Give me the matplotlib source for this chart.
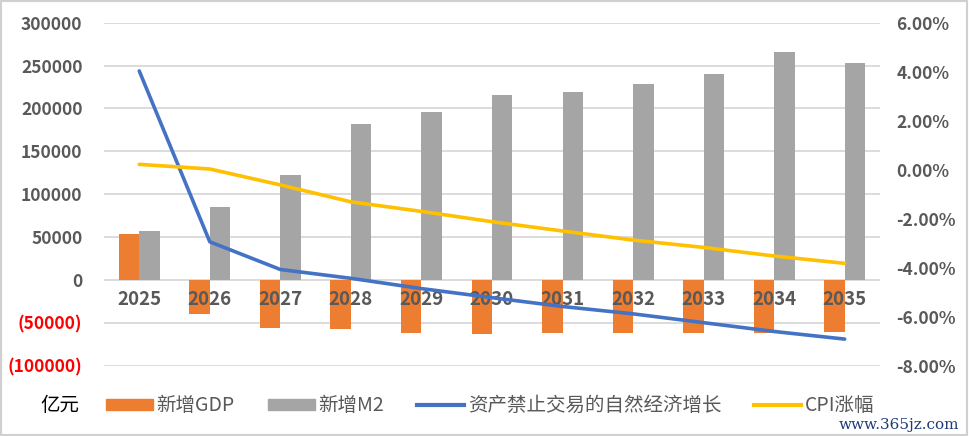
import numpy as np
import matplotlib
matplotlib.use("Agg")
import matplotlib.pyplot as plt
from matplotlib.patches import Rectangle
from matplotlib.lines import Line2D
from matplotlib.ticker import FuncFormatter

plt.rcParams['font.family'] = ['Noto Sans CJK SC', 'DejaVu Sans']

# Data
years = ['2025', '2026', '2027', '2028', '2029', '2030',
         '2031', '2032', '2033', '2034', '2035']
new_gdp = [54000, -40000, -55500, -57000, -62000, -62500,
           -62000, -62000, -62000, -62000, -61000]
new_m2 = [57500, 85500, 123000, 181500, 196000, 216000,
          219500, 228000, 240000, 266000, 252500]
natural_growth = [4.03, -2.94, -4.07, -4.43, -4.85, -5.22,
                  -5.58, -5.88, -6.24, -6.60, -6.91]
cpi = [0.22, 0.03, -0.62, -1.31, -1.70, -2.12,
       -2.50, -2.87, -3.17, -3.52, -3.82]

label_gray = '#595959'
c_gdp = '#ED7D31'
c_m2 = '#A5A5A5'
c_blue = '#4472C4'
c_yellow = '#FFC000'

fig = plt.figure(figsize=(9.69, 4.36), dpi=100)
ax = fig.add_axes([0.1073, 0.161, 0.8008, 0.787])
ax2 = ax.twinx()

x = np.arange(len(years))
w = 0.29
ax.bar(x - w / 2, new_gdp, width=w, color=c_gdp, zorder=2)
ax.bar(x + w / 2, new_m2, width=w, color=c_m2, zorder=2)

ax.set_ylim(-100000, 300000)
ax.set_xlim(-0.5, len(years) - 0.5)
ax.set_yticks(np.arange(-100000, 300001, 50000))
# negative values shown in parentheses
ax.yaxis.set_major_formatter(FuncFormatter(
    lambda v, p: f'({abs(int(v))})' if v < 0 else f'{int(v)}'))
ax.grid(axis='y', color='#D9D9D9', lw=1.3, zorder=0)
ax.set_axisbelow(True)
ax.set_xticks([])
ax.tick_params(axis='y', length=0, pad=15.5)
for lab in ax.get_yticklabels():
    lab.set_fontweight('bold')
    lab.set_fontsize(12.5)
    lab.set_color('red' if lab.get_text().startswith('(') else label_gray)

# year labels sit just under the zero line
for i, yr in enumerate(years):
    ax.text(i, -23000, yr, ha='center', va='center', fontsize=13.5,
            fontweight='bold', color=label_gray, zorder=6)

ax2.plot(x, natural_growth, color=c_blue, lw=2.6, zorder=4,
         solid_capstyle='round')
ax2.plot(x, cpi, color=c_yellow, lw=2.6, zorder=4, solid_capstyle='round')
ax2.set_ylim(-8, 6)
ax2.set_yticks(np.arange(-8, 6.1, 2))
ax2.yaxis.set_major_formatter(FuncFormatter(lambda v, p: f'{v:.2f}%'))
ax2.tick_params(axis='y', length=0, pad=12)
for lab in ax2.get_yticklabels():
    lab.set_fontweight('bold')
    lab.set_fontsize(12.5)
    lab.set_color(label_gray)

for a in (ax, ax2):
    for s in a.spines.values():
        s.set_visible(False)

handles = [Rectangle((0, 0), 1, 1, color=c_gdp),
           Rectangle((0, 0), 1, 1, color=c_m2),
           Line2D([], [], color=c_blue, lw=3),
           Line2D([], [], color=c_yellow, lw=3)]
labels = ['新增GDP', '新增M2', '资产禁止交易的自然经济增长', 'CPI涨幅']
leg = fig.legend(handles, labels, loc='center', ncol=4,
                 bbox_to_anchor=(0.506, 0.069), frameon=False,
                 fontsize=14, handlelength=2.4, handleheight=0.5,
                 handletextpad=0.2, columnspacing=1.7)
for t in leg.get_texts():
    t.set_color(label_gray)

fig.text(0.062, 0.069, '亿元', ha='center', va='center', fontsize=14,
         color='black')
fig.text(0.99, 0.025, 'www.365jz.com', ha='right', va='center',
         fontsize=11, color='#1F3A7A', family='DejaVu Serif')

fig.patches.append(Rectangle((0.001, 0.002), 0.997, 0.995,
                             transform=fig.transFigure, fill=False,
                             edgecolor='#D0D0D0', lw=1.5))

fig.savefig('out.png', dpi=100)
